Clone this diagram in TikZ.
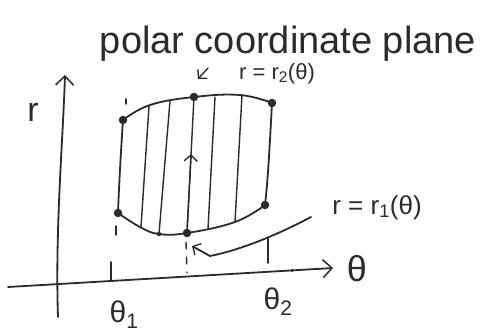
\documentclass[tikz,border=0pt]{standalone}
\usepackage{fontspec}
\setmainfont{Liberation Sans}
\usetikzlibrary{arrows.meta,calc}
\definecolor{ink}{HTML}{2B2B2B}
\begin{document}
\begin{tikzpicture}[x=1pt,y=-1pt, line cap=round, line join=round,
  pen/.style={draw=ink, line width=1.8pt},
  thinpen/.style={draw=ink, line width=1.4pt},
  dot/.style={circle, fill=ink, inner sep=0pt, minimum size=8.5pt},
  smalldot/.style={circle, fill=ink, inner sep=0pt, minimum size=4.5pt},
  lbl/.style={text=ink, inner sep=0pt},
  barb/.style={-{Straight Barb[length=9pt,width=18pt,line width=1.5pt]}},
  smallbarb/.style={-{Straight Barb[length=6pt,width=13pt,line width=1.4pt]}}]
\useasboundingbox (0,0) rectangle (488,332);
\fill[white] (0,0) rectangle (488,332);

% axes
\coordinate (xs) at (8,287);
\coordinate (xe) at (333,268);
\coordinate (ys) at (58,317);
\coordinate (ye) at (65,75);
\draw[pen, barb] (xs) -- (xe);
\draw[pen, barb] (ys) .. controls (55,230) and (63,140) .. (ye);
\node[smalldot, minimum size=3.5pt] (xd) at (292,270.5) {};

% region corner dots
\node[dot] (tl) at (123,120) {};
\node[dot] (tm) at (194,97) {};
\node[dot] (tr) at (272,103) {};
\node[dot] (bl) at (118,213) {};
\node[dot] (bm) at (187,233) {};
\node[dot] (br) at (265,205) {};
\node[smalldot] (sm) at (159,234) {};

% boundary
\draw[pen] plot[smooth, tension=0.7] coordinates {(tl.center) (150,105) (tm.center) (240,95) (tr.center)};
\draw[pen] plot[smooth, tension=0.7] coordinates {(bl.center) (140,227) (sm.center) (bm.center) (235,222) (br.center)};
\draw[pen] (tl.center) .. controls (121,150) and (119,185) .. (bl.center);
\draw[pen] (tr.center) .. controls (270,140) and (268,180) .. (br.center);

% hatch lines
\coordinate (h1t) at (149,106); \coordinate (h1b) at (141,227);
\coordinate (h2t) at (170,101);
\coordinate (h4t) at (215,97);  \coordinate (h4b) at (208,229);
\coordinate (h5t) at (242,95);  \coordinate (h5b) at (235,222);
\draw[thinpen] (h1t) -- (h1b);
\draw[thinpen] (h2t) -- (sm.center);
\draw[thinpen] (tm.center) -- (bm.center);
\draw[thinpen] (h4t) -- (h4b);
\draw[thinpen] (h5t) -- (h5b);
\draw[thinpen, smallbarb] (bm.center) -- ($(bm.center)!0.58!(tm.center)$);

% ticks and guides
\coordinate (t1a) at (111,262); \coordinate (t1b) at (111,281);
\coordinate (t2a) at (268,238); \coordinate (t2b) at (268,263);
\draw[thinpen] (t1a) -- (t1b);
\draw[thinpen] (t2a) -- (t2b);
\coordinate (g1a) at (116,226); \coordinate (g1b) at (116,235);
\coordinate (g2a) at (126,99);  \coordinate (g2b) at (126,104);
\draw[thinpen] (g1a) -- (g1b);
\draw[thinpen] (g2a) -- (g2b);
\coordinate (md1) at (186,242); \coordinate (md2) at (187,273);
\draw[thinpen, dash pattern=on 7pt off 8pt] (md1) -- (md2);

% labels
\node[lbl, font=\fontsize{38}{40}\selectfont, anchor=base] (title) at (288,53) {polar coordinate plane};
\node[lbl, font=\fontsize{22}{24}\selectfont, anchor=base] (r2lbl) at (277,79) {r = r\textsubscript{2}(θ)};
\node[lbl, font=\fontsize{26}{28}\selectfont, anchor=base] (r1lbl) at (377,214) {r = r\textsubscript{1}(θ)};
\node[lbl, font=\fontsize{36}{38}\selectfont] (thlbl) at (357,269) {θ};
\node[lbl, font=\fontsize{34}{36}\selectfont] (rlbl) at (33,112) {r};
\node[lbl, font=\fontsize{30}{32}\selectfont] (th1) at (124,315) {θ\textsubscript{1}};
\node[lbl, font=\fontsize{30}{32}\selectfont] (th2) at (278,302) {θ\textsubscript{2}};

% label connectors
\coordinate (a2s) at (208,68); \coordinate (a2e) at (198,79);
\draw[thinpen, smallbarb] (a2s) -- (a2e);
\coordinate (c1) at (311,217);
\draw[pen, smallbarb] (c1) .. controls (275,236) and (240,250) .. (210,256) -- (192,246);
\end{tikzpicture}
\end{document}
